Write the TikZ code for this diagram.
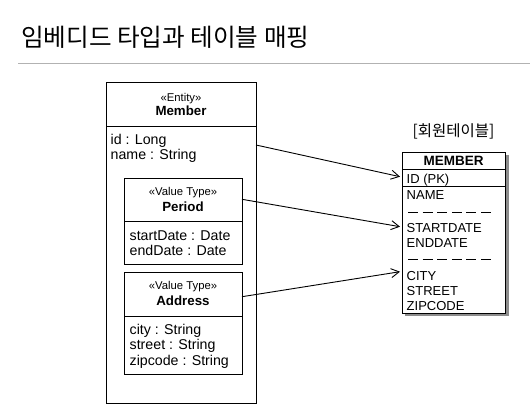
\documentclass[tikz,border=0pt]{standalone}
\usepackage{fontspec}
\setmainfont{Liberation Sans}
\newfontfamily\kr{Noto Sans CJK KR}
\usetikzlibrary{arrows.meta}
\tikzset{
  lw/.style={line width=0.9pt},
  umlbox/.style={draw=black, lw, fill=white, inner sep=0pt, outer sep=0pt, anchor=north west},
  sepline/.style={draw=black, lw},
  stereo/.style={anchor=base, inner sep=0pt, font=\fontsize{11.3}{13}\selectfont},
  cname/.style={anchor=base, inner sep=0pt, font=\bfseries\fontsize{13.3}{15}\selectfont},
  attr/.style={anchor=base west, inner sep=0pt, font=\fontsize{14.2}{16}\selectfont},
  col/.style={anchor=base west, inner sep=0pt, font=\fontsize{13}{15}\selectfont},
  coldash/.style={draw=black, lw, dash pattern=on 10pt off 4.6pt},
  maparrow/.style={draw=black, lw, -{Straight Barb[length=8pt,width=9pt]}},
  titletext/.style={anchor=base west, inner sep=0pt, font=\kr\fontsize{24.6}{28}\selectfont},
}
\begin{document}
\begin{tikzpicture}[x=1pt,y=-1pt]
\useasboundingbox (0,0) rectangle (530,409);
% title
\node[titletext] (title) at (21,47) {임베디드 타입과 테이블 매핑};
\draw[draw=black!30, line width=1.1pt] (18,63.5) -- (530,63.5);

% Member entity
\node[umlbox, minimum width=150pt, minimum height=321pt] (member) at (106,82) {};
\draw[sepline] (106,126) -- (256,126);
\node[stereo] (mst) at (181,101.5) {«Entity»};
\node[cname] (mname) at (181,116) {Member};
\node[attr] (mid) at (110.5,144.5) {id : Long};
\node[attr] (mnm) at (110.5,159.5) {name : String};

% Period
\node[umlbox, minimum width=118pt, minimum height=86pt] (period) at (124,178.3) {};
\draw[sepline] (124,221.7) -- (242,221.7);
\node[stereo] (pst) at (183,195.5) {«Value Type»};
\node[cname] (pname) at (183,211.5) {Period};
\node[attr] (psd) at (129.5,240) {startDate : Date};
\node[attr] (ped) at (129.5,255.5) {endDate : Date};

% Address
\node[umlbox, minimum width=118pt, minimum height=102pt] (address) at (124,272.3) {};
\draw[sepline] (124,316) -- (242,316);
\node[stereo] (ast) at (183,289.5) {«Value Type»};
\node[cname] (aname) at (183,305.5) {Address};
\node[attr] (acity) at (129.5,334) {city : String};
\node[attr] (astreet) at (129.5,349.5) {street : String};
\node[attr] (azip) at (129.5,365) {zipcode : String};

% Table
\node[anchor=base, inner sep=0pt, font=\kr\fontsize{15.5}{17}\selectfont] (tlabel) at (453.5,137) {[회원테이블]};
\fill[black!45] (405,155.3) rectangle (508.5,316.3);
\node[umlbox, minimum width=103.5pt, minimum height=161pt] (table) at (402,152.3) {};
\draw[sepline] (402,169.3) -- (505.5,169.3);
\draw[sepline] (402,186.7) -- (505.5,186.7);
\node[cname, font=\bfseries\fontsize{13.5}{15}\selectfont] (tname) at (453.7,165) {MEMBER};
\node[col] (cid) at (406.5,183.3) {ID (PK)};
\node[col] (cname) at (406.5,199.5) {NAME};
\draw[coldash] (408,212.7) -- (493,212.7);
\node[col] (csd) at (406.5,232.5) {STARTDATE};
\node[col] (ced) at (406.5,247.7) {ENDDATE};
\draw[coldash] (408,259) -- (493,259);
\node[col] (ccity) at (406.5,280) {CITY};
\node[col] (cstreet) at (406.5,295) {STREET};
\node[col] (czip) at (406.5,310) {ZIPCODE};

% connectors
\coordinate (s1) at (256,145);
\coordinate (e1) at (400,176.7);
\coordinate (s2) at (242,199.3);
\coordinate (e2) at (400,226.7);
\coordinate (s3) at (242,296.7);
\coordinate (e3) at (400,271.7);
\draw[maparrow] (s1) -- (e1);
\draw[maparrow] (s2) -- (e2);
\draw[maparrow] (s3) -- (e3);
\end{tikzpicture}
\end{document}
